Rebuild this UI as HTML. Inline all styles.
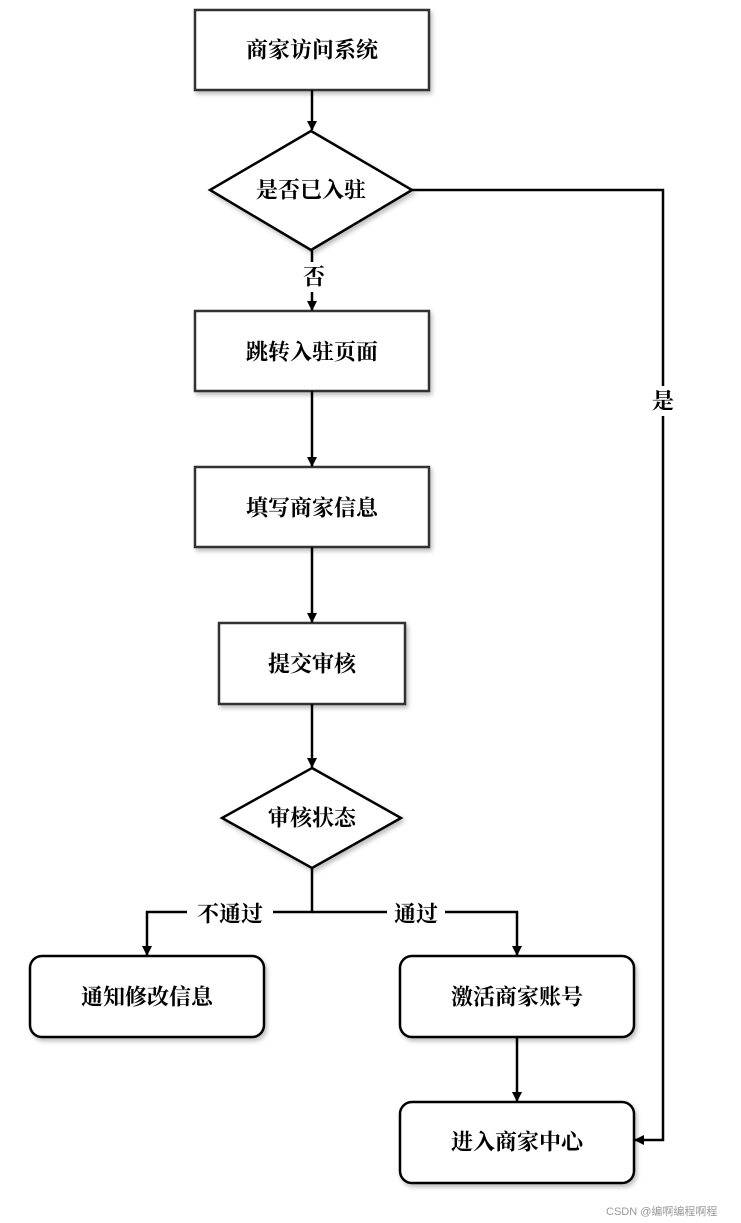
<!DOCTYPE html>
<html><head><meta charset="utf-8"><style>
html,body{margin:0;padding:0;background:#fff;}
svg{display:block;}
text{font-family:"Liberation Serif","Noto Serif CJK SC",serif;font-weight:bold;font-size:22px;fill:#000;}
</style></head><body>
<svg width="741" height="1223" viewBox="0 0 741 1223" xmlns="http://www.w3.org/2000/svg">
<defs>
<filter id="sh" x="-10%" y="-10%" width="130%" height="140%"><feDropShadow dx="2" dy="3" stdDeviation="2" flood-color="#000" flood-opacity="0.25"/></filter>
<marker id="ar" markerWidth="10" markerHeight="10" refX="9" refY="5" orient="auto" markerUnits="userSpaceOnUse"><path d="M0,0 L10,5 L0,10 Z" fill="#000"/></marker>
</defs>
<g stroke="#000" stroke-width="2.5" fill="#fff">
<rect x="195" y="10" width="234" height="80" stroke="#333" filter="url(#sh)"/>
<polygon points="311,131 412,190 311,250 210,190" filter="url(#sh)"/>
<rect x="195" y="311" width="234" height="80" stroke="#333" filter="url(#sh)"/>
<rect x="195" y="467" width="234" height="80" stroke="#333" filter="url(#sh)"/>
<rect x="219" y="623" width="186" height="81" stroke="#333" filter="url(#sh)"/>
<polygon points="312,768 401,818 312,868 222,818" filter="url(#sh)"/>
<rect x="30" y="956" width="234" height="81" rx="12" filter="url(#sh)"/>
<rect x="400" y="956" width="234" height="81" rx="12" filter="url(#sh)"/>
<rect x="400" y="1102" width="234" height="81" rx="12" filter="url(#sh)"/>
</g>
<g stroke="#000" stroke-width="2.5" fill="none">
<line x1="312" y1="90" x2="312" y2="130" marker-end="url(#ar)"/>
<line x1="312" y1="250" x2="312" y2="310" marker-end="url(#ar)"/>
<line x1="312" y1="391" x2="312" y2="466" marker-end="url(#ar)"/>
<line x1="312" y1="547" x2="312" y2="622" marker-end="url(#ar)"/>
<line x1="312" y1="704" x2="312" y2="767" marker-end="url(#ar)"/>
<polyline points="312,868 312,912 147,912 147,955" marker-end="url(#ar)"/>
<polyline points="312,912 517,912 517,955" marker-end="url(#ar)"/>
<line x1="517" y1="1037" x2="517" y2="1101" marker-end="url(#ar)"/>
<polyline points="412,190 663,190 663,1140 635,1140" marker-end="url(#ar)"/>
</g>
<rect x="300" y="262" width="24" height="30" fill="#fff"/>
<rect x="650" y="386" width="26" height="30" fill="#fff"/>
<rect x="187" y="900" width="86" height="28" fill="#fff"/>
<rect x="387" y="900" width="58" height="28" fill="#fff"/>
<g text-anchor="middle" dominant-baseline="central">
<text x="312" y="50">商家访问系统</text>
<text x="311" y="190">是否已入驻</text>
<text x="314" y="277">否</text>
<text x="312" y="352">跳转入驻页面</text>
<text x="312" y="508">填写商家信息</text>
<text x="312" y="664">提交审核</text>
<text x="312" y="818">审核状态</text>
<text x="230" y="914">不通过</text>
<text x="416" y="914">通过</text>
<text x="147" y="997">通知修改信息</text>
<text x="517" y="997">激活商家账号</text>
<text x="517" y="1142">进入商家中心</text>
<text x="663" y="401">是</text>
</g>
<text x="606" y="1215" style="font-family:'Liberation Sans','Noto Sans CJK SC',sans-serif;font-weight:normal;font-size:11px;fill:#999">CSDN @编啊编程啊程</text>
</svg>
</body></html>
